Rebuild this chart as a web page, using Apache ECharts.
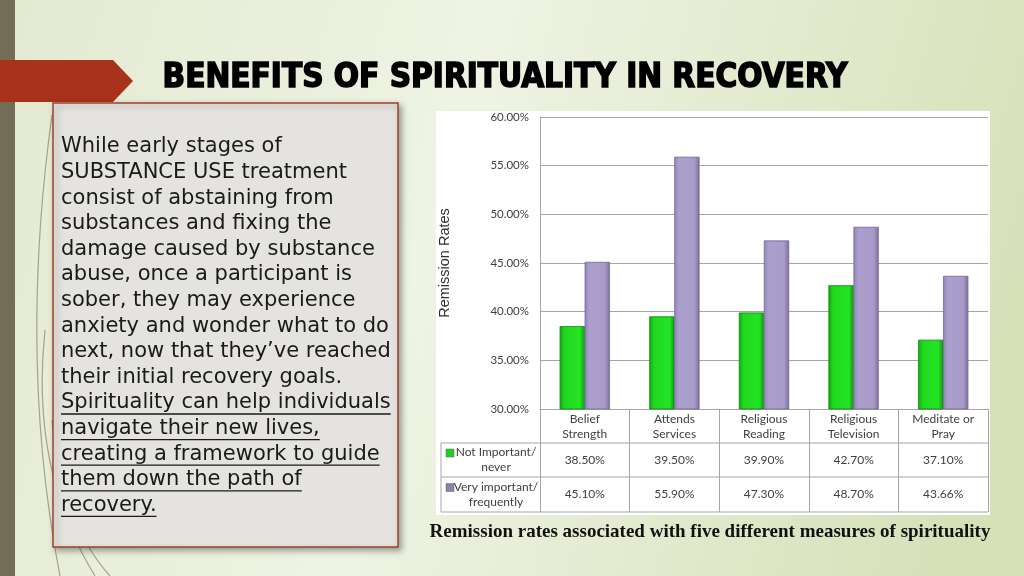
<!DOCTYPE html>
<html>
<head>
<meta charset="utf-8">
<script src="https://cdn.jsdelivr.net/npm/echarts@6/dist/echarts.min.js"></script>
<style>html,body{margin:0;padding:0;}#c{width:1024px;height:576px;}</style>
</head>
<body>
<div id="c"></div>
<script>
// ---------- data ----------
const categories = ['Belief\nStrength', 'Attends\nServices', 'Religious\nReading', 'Religious\nTelevision', 'Meditate or\nPray'];
const notImportant = [38.50, 39.50, 39.90, 42.70, 37.10];
const veryImportant = [45.10, 55.90, 47.30, 48.70, 43.66];
const seriesNames = ['Not Important/\nnever', 'Very important/\nfrequently'];
const yMin = 30, yMax = 60, yStep = 5;
const titleText = 'BENEFITS OF SPIRITUALITY IN RECOVERY';
const captionText = 'Remission rates associated with five different measures of spirituality';
const yAxisName = 'Remission Rates';
const paragraphLines = [
  'While early stages of',
  'SUBSTANCE USE treatment',
  'consist of abstaining from',
  'substances and fixing the',
  'damage caused by substance',
  'abuse, once a participant is',
  'sober, they may experience',
  'anxiety and wonder what to do',
  'next, now that they\u2019ve reached',
  'their initial recovery goals.',
  'Spirituality can help individuals',
  'navigate their new lives,',
  'creating a framework to guide',
  'them down the path of',
  'recovery.'
];
const underlineFrom = 10;

// ---------- styles ----------
const gridColor = '#a6a6a6';
const txtColor = '#404040';
const tableFont = 'Lato, "Liberation Sans", sans-serif';
const paraFontSize = 21;
const paraFontFamily = '"DejaVu Sans", sans-serif';

const chart = echarts.init(document.getElementById('c'), null, {renderer: 'canvas'});

const greenGrad = new echarts.graphic.LinearGradient(0, 0, 1, 0, [
  {offset: 0, color: '#12a812'}, {offset: 0.18, color: '#1fd81f'},
  {offset: 0.8, color: '#24e424'}, {offset: 1, color: '#119a11'}]);
const purpleGrad = new echarts.graphic.LinearGradient(0, 0, 1, 0, [
  {offset: 0, color: '#9285b6'}, {offset: 0.18, color: '#ab9fcd'},
  {offset: 0.8, color: '#a89bc8'}, {offset: 1, color: '#7d6f9c'}]);

// measure text for underlines
const mctx = document.createElement('canvas').getContext('2d');
mctx.font = paraFontSize + 'px ' + paraFontFamily;

function baseGraphics() {
  const g = [];
  // background
  g.push({type: 'rect', z: -10, shape: {x: 0, y: 0, width: 1024, height: 576},
    style: {fill: new echarts.graphic.LinearGradient(0, 0, 1, 0.5, [
      {offset: 0, color: '#e3ead0'}, {offset: 0.45, color: '#eff3e4'}, {offset: 1, color: '#d6e1b8'}])}});
  // decorative curves
  const curves = [
    [[52, 115], [18, 360], [60, 576]],
    [[45, 330], [30, 470], [95, 576]],
    [[52, 420], [60, 520], [110, 576]]
  ];
  curves.forEach(c => g.push({type: 'bezierCurve', z: -9,
    shape: {x1: c[0][0], y1: c[0][1], cpx1: c[1][0], cpy1: c[1][1], x2: c[2][0], y2: c[2][1]},
    style: {stroke: '#5d5b45', lineWidth: 1.2, opacity: 0.5, fill: null}}));
  // left vertical bar
  g.push({type: 'rect', z: -8, shape: {x: 0, y: 0, width: 15, height: 576}, style: {fill: '#736d57'}});
  // red arrow
  g.push({type: 'polygon', z: -7, shape: {points: [[0, 60], [113, 60], [133, 81], [113, 102], [0, 102]]},
    style: {fill: '#a8321a'}});
  // title
  g.push({type: 'text', z: 5, x: 505, y: 78, style: {text: titleText,
    fontFamily: '"DejaVu Sans Condensed", "DejaVu Sans", sans-serif', fontWeight: 'bold', fontSize: 33,
    fill: '#000', stroke: '#000', lineWidth: 1.5, align: 'center', verticalAlign: 'middle'}});
  // paragraph box
  g.push({type: 'rect', z: -6, shape: {x: 53, y: 103, width: 345, height: 444},
    style: {fill: '#e4e3df', stroke: '#a0402c', lineWidth: 1.5,
      shadowBlur: 6, shadowOffsetX: 3, shadowOffsetY: 3, shadowColor: 'rgba(0,0,0,0.35)'}});
  paragraphLines.forEach((t, i) => {
    const y = 147 + i * 25.6;
    g.push({type: 'text', z: 5, x: 61, y: y, style: {text: t, fontFamily: paraFontFamily,
      fontSize: paraFontSize, fill: '#1a1a1a', align: 'left', verticalAlign: 'middle'}});
    if (i >= underlineFrom) {
      const w = mctx.measureText(t).width;
      g.push({type: 'line', z: 5, shape: {x1: 61, y1: y + 11, x2: 61 + w, y2: y + 11},
        style: {stroke: '#1a1a1a', lineWidth: 1.3}});
    }
  });
  // chart white panel
  g.push({type: 'rect', z: -5, shape: {x: 436, y: 111, width: 554, height: 404}, style: {fill: '#ffffff'}});
  // table lines
  [443, 477, 512].forEach(y => g.push({type: 'line', z: 3,
    shape: {x1: 441, y1: y, x2: 988, y2: y}, style: {stroke: gridColor, lineWidth: 1}}));
  g.push({type: 'line', z: 3, shape: {x1: 441, y1: 443, x2: 441, y2: 512}, style: {stroke: gridColor, lineWidth: 1}});
  // legend cells
  const legendColors = ['#1fcf1f', '#8a80a8'];
  [460, 494.5].forEach((cy, k) => {
    g.push({type: 'text', z: 4, x: 496, y: cy, style: {text: seriesNames[k], fontFamily: tableFont,
      fontSize: 12, lineHeight: 15, fill: txtColor, align: 'center', verticalAlign: 'middle'}});
    g.push({type: 'rect', z: 4, shape: {x: 446, y: cy - 11, width: 8, height: 8},
      style: {fill: legendColors[k], stroke: '#666', lineWidth: 0.5}});
  });
  // caption
  g.push({type: 'text', z: 5, x: 710, y: 532, style: {text: captionText,
    fontFamily: '"Liberation Serif", "DejaVu Serif", serif', fontWeight: 'bold', fontSize: 19,
    fill: '#111', align: 'center', verticalAlign: 'middle'}});
  return g;
}

const option = {
  animation: false,
  grid: {left: 540, right: 36, top: 117, bottom: 167, containLabel: false},
  xAxis: {
    type: 'category', data: categories,
    axisLine: {show: true, lineStyle: {color: gridColor}},
    axisTick: {show: true, length: 103, interval: 0, lineStyle: {color: gridColor}},
    axisLabel: {interval: 0, margin: 3, fontFamily: tableFont, fontSize: 12, lineHeight: 15, color: txtColor}
  },
  yAxis: {
    type: 'value', min: yMin, max: yMax, interval: yStep,
    name: yAxisName, nameLocation: 'middle', nameGap: 88, nameRotate: 90,
    nameTextStyle: {fontFamily: '"Liberation Sans", Arial, sans-serif', fontSize: 14.5, color: '#303030'},
    axisLine: {show: true, lineStyle: {color: gridColor}},
    axisTick: {show: false},
    axisLabel: {margin: 11, formatter: v => v.toFixed(2) + '%', fontFamily: tableFont, fontSize: 11.5, color: txtColor},
    splitLine: {lineStyle: {color: gridColor, width: 1}}
  },
  series: [
    {name: seriesNames[0], type: 'bar', data: notImportant, barWidth: 25, barGap: '0%',
      itemStyle: {color: greenGrad, borderColor: '#0f8a0f', borderWidth: 0.5}},
    {name: seriesNames[1], type: 'bar', data: veryImportant, barWidth: 25,
      itemStyle: {color: purpleGrad, borderColor: '#75689a', borderWidth: 0.5}}
  ],
  graphic: baseGraphics()
};
chart.setOption(option);

// table value cells, positioned through the category axis scale
const cellGraphics = [];
categories.forEach((c, i) => {
  const x = chart.convertToPixel({xAxisIndex: 0}, i);
  [[notImportant, 460], [veryImportant, 494.5]].forEach(([arr, cy]) => {
    cellGraphics.push({type: 'text', z: 4, x: x, y: cy, style: {text: arr[i].toFixed(2) + '%',
      fontFamily: tableFont, fontSize: 12, fill: txtColor, align: 'center', verticalAlign: 'middle'}});
  });
});
chart.setOption({graphic: baseGraphics().concat(cellGraphics)}, {replaceMerge: ['graphic']});
</script>
</body>
</html>
